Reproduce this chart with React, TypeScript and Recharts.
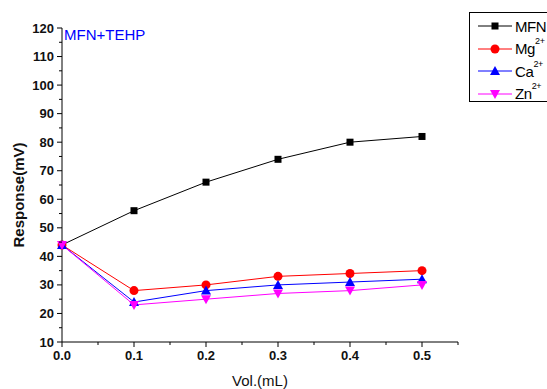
import React from 'react';
import { LineChart, Line, XAxis, YAxis, Legend } from 'recharts';

// ---------------------------------------------------------------------------
// Data
// ---------------------------------------------------------------------------

const VOLUMES = [0, 0.1, 0.2, 0.3, 0.4, 0.5];
const MFN = [44, 56, 66, 74, 80, 82];
const MG = [44, 28, 30, 33, 34, 35];
const CA = [44, 24, 28, 30, 31, 32];
const ZN = [44, 23, 25, 27, 28, 30];

const X_TICKS = [0, 0.05, 0.1, 0.15, 0.2, 0.25, 0.3, 0.35, 0.4, 0.45, 0.5, 0.55];
const Y_TICKS = [10, 15, 20, 25, 30, 35, 40, 45, 50, 55, 60, 65, 70, 75, 80, 85, 90, 95, 100, 105, 110, 115, 120];

const data = VOLUMES.map((v, i) => ({ vol: v, mfn: MFN[i], mg: MG[i], ca: CA[i], zn: ZN[i] }));

const FONT = 'Arial, "Liberation Sans", sans-serif';

// ---------------------------------------------------------------------------
// Markers
// ---------------------------------------------------------------------------

type Shape = 'square' | 'circle' | 'up' | 'down';

const Marker = ({ cx, cy, shape, color }: { cx: number; cy: number; shape: Shape; color: string }) => {
  if (shape === 'square') return <rect x={cx - 3.5} y={cy - 3.5} width={7} height={7} fill={color} />;
  if (shape === 'circle') return <circle cx={cx} cy={cy} r={4.5} fill={color} />;
  if (shape === 'up') return <polygon points={`${cx},${cy - 5} ${cx - 5},${cy + 4} ${cx + 5},${cy + 4}`} fill={color} />;
  return <polygon points={`${cx},${cy + 5} ${cx - 5},${cy - 4} ${cx + 5},${cy - 4}`} fill={color} />;
};

const dotFor = (shape: Shape, color: string) => (p: any) => (
  <Marker key={`${shape}-${p.index}`} cx={p.cx} cy={p.cy} shape={shape} color={color} />
);

// ---------------------------------------------------------------------------
// Axis ticks (major with labels, minor without)
// ---------------------------------------------------------------------------

const XTick = (p: any) => {
  const v = p.payload.value;
  const major = Math.abs(Math.round(v * 10) - v * 10) < 1e-6;
  const top = p.y - 7;
  return (
    <g>
      <line x1={p.x} x2={p.x} y1={top} y2={top + (major ? 5 : 3)} stroke="#000" />
      {major && v <= 0.5 && (
        <text x={p.x} y={p.y + 11} textAnchor="middle" fontSize={13} fontWeight="bold" fontFamily={FONT} fill="#111">
          {v.toFixed(1)}
        </text>
      )}
    </g>
  );
};

const YTick = (p: any) => {
  const v = p.payload.value;
  const major = v % 10 === 0;
  const right = p.x + 7;
  return (
    <g>
      <line x1={right} x2={right - (major ? 5 : 3)} y1={p.y} y2={p.y} stroke="#000" />
      {major && (
        <text x={p.x - 1} y={p.y + 4.5} textAnchor="end" fontSize={13} fontWeight="bold" fontFamily={FONT} fill="#111">
          {v}
        </text>
      )}
    </g>
  );
};

// ---------------------------------------------------------------------------
// Legend (box runs off the right edge, as in the reference)
// ---------------------------------------------------------------------------

const LEGEND: { name: string; sup?: string; shape: Shape; color: string }[] = [
  { name: 'MFN', shape: 'square', color: '#000000' },
  { name: 'Mg', sup: '2+', shape: 'circle', color: '#ff0000' },
  { name: 'Ca', sup: '2+', shape: 'up', color: '#0000ff' },
  { name: 'Zn', sup: '2+', shape: 'down', color: '#ff00ff' },
];

const LegendBox = () => (
  <div
    style={{
      position: 'relative', width: 100, height: 88,
      border: '1px solid #000', background: '#fff', fontFamily: FONT, textAlign: 'left',
    }}
  >
    {LEGEND.map((e, i) => (
      <div key={e.name} style={{ position: 'absolute', left: 0, top: 3 + i * 22.5, height: 20, display: 'flex', alignItems: 'center' }}>
        <svg width={44} height={20} style={{ marginLeft: 8 }}>
          <line x1={0} x2={34} y1={10} y2={10} stroke={e.color} strokeWidth={1} />
          <Marker cx={17} cy={10} shape={e.shape} color={e.color} />
        </svg>
        <span style={{ fontSize: 15, color: '#000', marginLeft: -7, whiteSpace: 'nowrap', letterSpacing: -0.4 }}>
          {e.name}
          {e.sup && <sup style={{ fontSize: 9, verticalAlign: 'top', position: 'relative', top: -4 }}>{e.sup}</sup>}
        </span>
      </div>
    ))}
  </div>
);

// ---------------------------------------------------------------------------
// Main component
// ---------------------------------------------------------------------------

export default function App() {
  return (
    <div style={{ position: 'absolute', left: 0, top: 0, width: 547, height: 389, background: '#fff', overflow: 'hidden' }}>
      <LineChart width={547} height={389} data={data} margin={{ top: 28, right: 89, left: 0, bottom: 17 }}>
        <XAxis
          dataKey="vol"
          type="number"
          domain={[0, 0.55]}
          ticks={X_TICKS}
          interval={0}
          tickLine={false}
          tickSize={5}
          tickMargin={2}
          tick={<XTick />}
          axisLine={{ stroke: '#000' }}
          height={30}
        />
        <YAxis
          type="number"
          domain={[10, 120]}
          ticks={Y_TICKS}
          interval={0}
          tickLine={false}
          tickSize={5}
          tickMargin={2}
          tick={<YTick />}
          axisLine={{ stroke: '#000' }}
          width={62}
        />
        <Legend
          layout="vertical"
          align="center"
          verticalAlign="middle"
          content={() => <LegendBox />}
          wrapperStyle={{ position: 'absolute', left: 469, top: 12, width: 102, height: 90 }}
        />
        <Line dataKey="mfn" stroke="#000000" strokeWidth={1} dot={dotFor('square', '#000000')} isAnimationActive={false} />
        <Line dataKey="mg" stroke="#ff0000" strokeWidth={1} dot={dotFor('circle', '#ff0000')} isAnimationActive={false} />
        <Line dataKey="ca" stroke="#0000ff" strokeWidth={1} dot={dotFor('up', '#0000ff')} isAnimationActive={false} />
        <Line dataKey="zn" stroke="#ff00ff" strokeWidth={1} dot={dotFor('down', '#ff00ff')} isAnimationActive={false} />
      </LineChart>
      <div style={{ position: 'absolute', left: 64, top: 26, color: '#0000ff', fontFamily: FONT, fontSize: 15, lineHeight: '18px' }}>
        MFN+TEHP
      </div>
      <div
        style={{
          position: 'absolute', left: 18, top: 195, transform: 'translate(-50%, -50%) rotate(-90deg)',
          fontFamily: FONT, fontSize: 15, fontWeight: 'bold', whiteSpace: 'nowrap', color: '#111',
        }}
      >
        Response(mV)
      </div>
      <div style={{ position: 'absolute', left: 260, top: 380, transform: 'translate(-50%, -50%)', fontFamily: FONT, fontSize: 15, whiteSpace: 'nowrap', color: '#111' }}>
        Vol.(mL)
      </div>
    </div>
  );
}
